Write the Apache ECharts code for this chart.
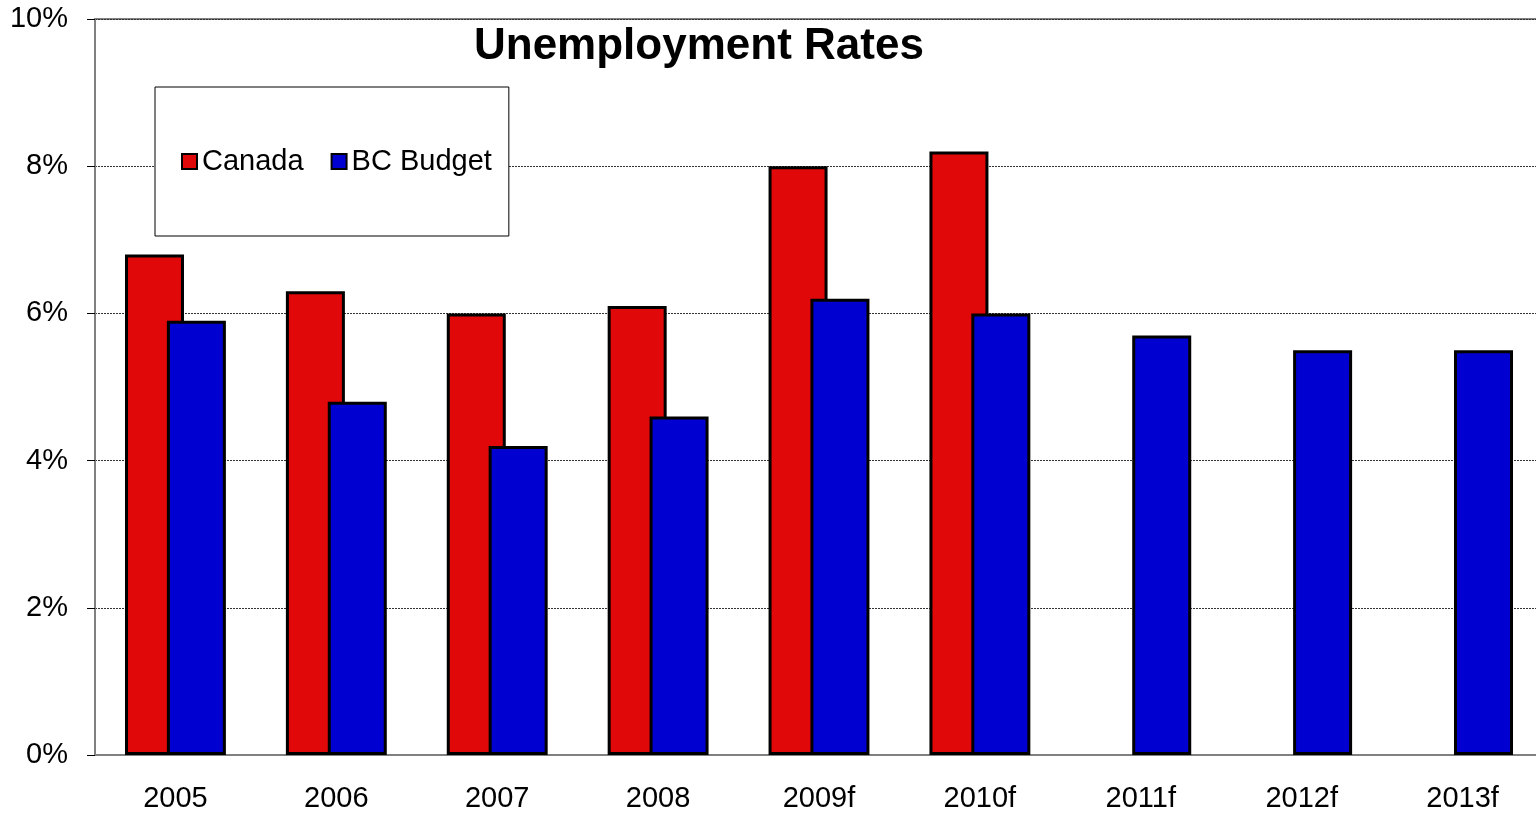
<!DOCTYPE html>
<html>
<head>
<meta charset="utf-8">
<script src="https://cdn.jsdelivr.net/npm/echarts@6/dist/echarts.min.js"></script>
<style>
  html, body { margin: 0; padding: 0; background: #fff; overflow: hidden; }
  #chart { width: 1536px; height: 813px; }
</style>
</head>
<body>
<div id="chart"></div>
<script>
// 数据
var years = ["2005", "2006", "2007", "2008", "2009f", "2010f", "2011f", "2012f", "2013f"];
var canada = [6.8, 6.3, 6.0, 6.1, 8.0, 8.2, null, null, null];
var bcBudget = [5.9, 4.8, 4.2, 4.6, 6.2, 6.0, 5.7, 5.5, 5.5];
var yTicks = [0, 2, 4, 6, 8, 10];

var font = "'Liberation Sans', Arial, sans-serif";
var myChart = echarts.init(document.getElementById("chart"));

var option = {
  animation: false,
  backgroundColor: "#fff",
  title: {
    text: "Unemployment Rates",
    left: 469,
    top: 20,
    textStyle: {
      color: "#000",
      fontFamily: font,
      fontWeight: "bold",
      fontSize: 44
    }
  },
  legend: {
    left: 155,
    top: 87,
    padding: [60, 17, 60, 26],
    backgroundColor: "#fff",
    borderColor: "#000",
    borderWidth: 1,
    itemWidth: 15,
    itemHeight: 15,
    itemGap: 27,
    icon: "rect",
    textStyle: { color: "#000", fontFamily: font, fontSize: 29 }
  },
  grid: {
    left: 95,
    width: 1448,
    top: 19,
    bottom: 58,
    outerBoundsMode: "none",
    show: true,
    borderColor: "#808080",
    borderWidth: 2
  },
  xAxis: {
    type: "category",
    data: years,
    axisLine: { lineStyle: { color: "#808080", width: 2 } },
    axisTick: { length: 8, lineStyle: { color: "#808080", width: 1 } },
    axisLabel: { color: "#000", fontFamily: font, fontSize: 29, margin: 29 }
  },
  yAxis: {
    type: "value",
    min: yTicks[0],
    max: yTicks[yTicks.length - 1],
    interval: 2,
    axisLine: { show: true, lineStyle: { color: "#808080", width: 2 } },
    axisTick: { show: true, length: 8, lineStyle: { color: "#000", width: 1 } },
    axisLabel: {
      color: "#000",
      fontFamily: font,
      fontSize: 29,
      margin: 27,
      formatter: "{value}%"
    },
    splitLine: { lineStyle: { color: "#333", width: 1, type: [2, 1] } }
  },
  series: [
    {
      name: "Canada",
      type: "bar",
      data: canada,
      barWidth: 59,
      barGap: "-29%",
      itemStyle: { color: "#E00808", borderColor: "#000", borderWidth: 3 }
    },
    {
      name: "BC Budget",
      type: "bar",
      data: bcBudget,
      barWidth: 59,
      barGap: "-29%",
      itemStyle: { color: "#0000D0", borderColor: "#000", borderWidth: 3 }
    }
  ]
};

myChart.setOption(option);
</script>
</body>
</html>
